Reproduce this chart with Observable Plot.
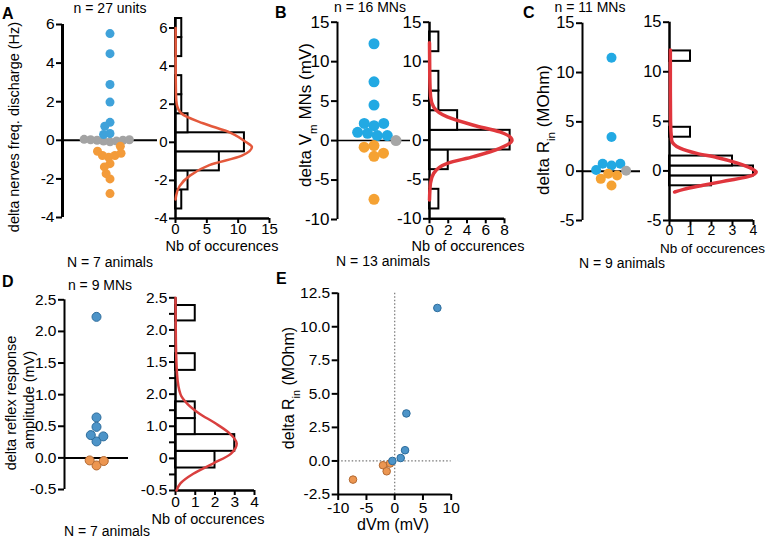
<!DOCTYPE html>
<html><head><meta charset="utf-8">
<script src="https://cdn.jsdelivr.net/npm/d3@7"></script>
<script src="https://cdn.jsdelivr.net/npm/@observablehq/plot@0.6"></script>
<style>
body{margin:0;background:#fff;}
#wrap{position:relative;width:767px;height:542px;overflow:hidden;background:#fff;}
#wrap svg{position:absolute;left:0;top:0;}
</style></head><body><div id="wrap"></div>
<script>
// ---------- Panel A: delta nerves freq. discharge (Hz) ----------
const aUp = [5.53, 4.49, 2.89, 1.98, 0.93, 0.73, 0.35, 0.30];
const aNone = [-0.08, -0.04, -0.04, 0.0, 0.0, 0.03, 0.03, 0.05];
const aDown = [-0.31, -2.76, -2.0, -1.21, -1.73, -1.38, -0.88, -0.79, -0.79, -0.67, -0.57];
const aBinLo = [-3.5, -2.5, -1.5, -0.5, 0.5, 1.5, 2.5, 4.5, 5.5];
const aBinHi = [-2.5, -1.5, -0.5, 0.5, 1.5, 2.5, 3.5, 5.5, 6.5];
const aCounts = [1, 2, 7, 11, 2, 1, 1, 1, 1];
const aFitV = [-3.0, -2.8, -2.3, -1.75, -1.2, -0.7, -0.25, 0.0, 0.5, 1.0, 1.5, 2.0, 2.5, 4.0, 6.0];
const aFitN = [0.02, 0.1, 0.65, 2.3, 5.4, 10.6, 12.2, 11.3, 8.8, 4.4, 1.0, 0.2, 0.08, 0.03, 0.02];
const aTicks = [-4, -2, 0, 2, 4, 6];
const aHistXTicks = [0, 5, 10, 15];

// ---------- Panel B: delta Vm MNs (mV) ----------
const bUp = [12.27, 7.44, 4.5, 1.89, 2.18, 2.18, 0.92, 0.63, 0.63, 1.05];
const bNone = [0];
const bDown = [-0.63, -0.84, -2.0, -1.6, -7.44];
const bBinLo = [-8.75, -3.75, -1.25, 1.25, 3.75, 6.25, 11.25];
const bBinHi = [-6.25, -1.25, 1.25, 3.75, 6.25, 8.75, 13.75];
const bCounts = [1, 2, 8.6, 3, 1, 1, 1];
const bFitV = [-7.6, -5.5, -4.2, -2.95, -2.1, -1.05, 0.0, 1.05, 1.9, 2.95, 4.2, 5.5, 8.0, 12.4];
const bFitN = [0.0, 0.1, 0.45, 1.9, 4.7, 7.5, 8.8, 7.5, 4.7, 1.9, 0.45, 0.12, 0.03, 0.0];
const bTicks = [-10, -5, 0, 5, 10, 15];
const bHistXTicks = [0, 2, 4, 6, 8];

// ---------- Panel C: delta Rin (MOhm) ----------
const cUp = [11.5, 3.46, 0.58, 0.75, 0.75, 0.12];
const cNone = [0.05];
const cDown = [-0.27, -0.44, -0.78, -1.46];
const cBinLo = [-1.5, -0.5, 0.5, 3.4, 11.05];
const cBinHi = [-0.5, 0.5, 1.5, 4.4, 12.1];
const cCounts = [2, 4, 3, 1, 1];
const cFitV = [-2.13, -1.86, -1.45, -1.0, -0.6, -0.1, 0.24, 0.82, 1.36, 1.77, 2.3, 3.1, 5.0, 8.0, 12.2];
const cFitN = [0.24, 0.67, 1.6, 2.7, 3.7, 4.13, 3.9, 3.2, 2.25, 1.3, 0.5, 0.1, 0.05, 0.04, 0.04];
const cTicks = [-5, 0, 5, 10, 15];
const cHistXTicks = [0, 1, 2, 3, 4];

// ---------- Panel D: delta reflex response amplitude (mV) ----------
const dUp = [2.23, 0.26, 0.64, 0.49, 0.36, 0.34];
const dDown = [-0.12, -0.04, -0.05];
const dBinLo = [-0.15, 0.11, 0.37, 0.62, 1.37, 2.14];
const dBinHi = [0.11, 0.37, 0.62, 0.88, 1.63, 2.38];
const dCounts = [2, 3, 1, 1, 1, 1];
const dFitV = [-0.5, -0.39, -0.24, -0.08, 0.07, 0.23, 0.4, 0.55, 0.7, 0.85, 1.0, 1.3, 1.8, 2.5];
const dFitN = [0.05, 0.25, 0.9, 1.9, 2.8, 3.1, 2.7, 2.0, 1.2, 0.6, 0.25, 0.08, 0.02, 0.0];
const dTicks = [-0.5, 0, 0.5, 1, 1.5, 2, 2.5];
const dHistTicks = [2.5, 2, 1.5, 1, 0.5, 0, -0.5];
const dHistTickLabels = ["2.5", "2.0", "1.5", "2.0", "1.0", "0", "-0.5"];
const dHistMinorTicks = [2.25, 1.75, 1.25, 0.75, 0.25, -0.25];
const dHistXTicks = [0, 1, 2, 3, 4];

// ---------- Panel E: delta Rin vs dVm ----------
const eUpVm = [7.55, 2.07, 1.83, 1.06, -0.41];
const eUpRin = [11.4, 3.54, 0.8, 0.22, 0.0];
const eDownVm = [-0.83, -2.07, -1.42, -7.38];
const eDownRin = [-0.19, -0.32, -0.77, -1.39];
const eXTicks = [-10, -5, 0, 5, 10];
const eYTicks = [-2.5, 0, 2.5, 5, 7.5, 10, 12.5];

// ---------- helpers ----------
const W = 767, H = 542;
const FONT = '"Liberation Sans", Arial, Helvetica, sans-serif';
const wrap = document.getElementById("wrap");
const fmtInt = d => String(d);
const fmt1 = d => d.toFixed(1);

function frame(l, r, t, b) {
  return {width: W, height: H, marginLeft: l, marginRight: W - r, marginTop: t, marginBottom: H - b};
}
function add(opts, fs) {
  const svg = Plot.plot({...opts, style: {background: "transparent", fontFamily: FONT, fontSize: fs, overflow: "visible"}});
  wrap.appendChild(svg);
}
// placement order for the beeswarm: large responders, then unchanged units, then the rest
function dots(up, none, down, cols, split = -Infinity) {
  return [
    ...up.filter(v => v > split).map(v => ({v, col: cols[0]})),
    ...none.map(v => ({v, col: cols[1]})),
    ...up.filter(v => v <= split).map(v => ({v, col: cols[0]})),
    ...down.map(v => ({v, col: cols[2]}))
  ];
}
function bins(lo, hi, n) { return lo.map((l, i) => ({lo: l, hi: hi[i], n: n[i]})); }
function fit(v, n) { return v.map((y, i) => ({v: y, n: n[i]})); }

const colA = ["#3fa2da", "#a3a3a3", "#f39b3a"];
const colBC = ["#22a9e3", "#a6a6a6", "#f5a233"];
const blueD = "#4d94c8", blueDs = "#2c6c9c", orD = "#ec9651", orDs = "#b36a33";

function scatter(fr, ydom, ticks, tfmt, data, r, pad, axisW, zeroW, fs, extra = {}) {
  add({
    ...frame(...fr),
    x: {domain: [0, 1], axis: null},
    y: {domain: ydom, label: null},
    color: {type: "identity"},
    marks: [
      Plot.ruleY([0], {strokeWidth: zeroW}),
      Plot.ruleX([0], {strokeWidth: axisW}),
      Plot.axisY({ticks, tickSize: 6, tickPadding: 2, tickFormat: tfmt, strokeWidth: 2, label: null}),
      Plot.dot(data, Plot.dodgeX({anchor: "middle", padding: pad, r}, {y: "v", r, fill: "col", ...extra}))
    ]
  }, fs);
}

function hist(fr, xdom, ydom, yTicks, yFmt, xTicks, binData, fitData, red, redW, fs, xfs, more = []) {
  add({
    ...frame(...fr),
    x: {domain: xdom, label: null},
    y: {domain: ydom, label: null},
    marks: [
      Plot.rectX(binData, {x1: 0, x2: "n", y1: "lo", y2: "hi", fill: "white", stroke: "black", strokeWidth: 2}),
      Plot.ruleX([0], {strokeWidth: 2.5}),
      Plot.ruleY([ydom[0]], {strokeWidth: 2.5}),
      Plot.axisY({ticks: yTicks, tickSize: 6, tickPadding: 2, tickFormat: yFmt, strokeWidth: 2, label: null}),
      Plot.axisX({ticks: xTicks, tickSize: 5, tickPadding: 0, tickFormat: fmtInt, strokeWidth: 2, label: null, fontSize: xfs}),
      ...more,
      Plot.line(fitData, {x: "n", y: "v", curve: "monotone-y", stroke: red, strokeWidth: redW})
    ]
  }, fs);
}

// ---------- A ----------
scatter([62, 157, 24, 217], [-4, 6], aTicks, fmtInt, dots(aUp, aNone, aDown, colA, 0.5), 4.5, -2.5, 3, 2, "15.5px");
hist([175, 269, 18, 218], [0, 15], [-4, 6.5], aTicks, fmtInt, aHistXTicks,
  bins(aBinLo, aBinHi, aCounts), fit(aFitV, aFitN), "#e4593c", 2.5, "15px", 15);

// ---------- B ----------
scatter([337, 410, 21.7, 219], [-10, 15], bTicks, fmtInt, dots(bUp, bNone, bDown, colBC), 5.5, -1, 2, 1.5, "17px");
hist([429, 504, 21.7, 218.3], [0, 8], [-10, 15], bTicks, fmtInt, bHistXTicks,
  bins(bBinLo, bBinHi, bCounts), fit(bFitV, bFitN), "#e0383c", 3.5, "17px", 15.5);

// ---------- C ----------
scatter([582, 640, 22.7, 220], [-5, 15], cTicks, fmtInt, dots(cUp, cNone, cDown, colBC), 5, -1, 2, 2, "16.5px");
hist([669, 753, 21.7, 220], [0, 4], [-5, 15], cTicks, fmtInt, cHistXTicks,
  bins(cBinLo, cBinHi, cCounts), fit(cFitV, cFitN), "#e0353d", 3.5, "16.5px", 14);

// ---------- D ----------
scatter([64, 128, 299.3, 489], [-0.5, 2.5], dTicks, fmt1,
  [...dUp.map(v => ({v, col: blueD, s: blueDs})), ...dDown.map(v => ({v, col: orD, s: orDs}))],
  4.5, -0.5, 2, 2, "15.5px", {stroke: "s", strokeWidth: 1});
hist([175, 254, 297.3, 490], [0, 4], [-0.5, 2.5], dHistTicks, d => dHistTickLabels[dHistTicks.indexOf(d)], dHistXTicks,
  bins(dBinLo, dBinHi, dCounts), fit(dFitV, dFitN), "#d9403f", 2.5, "15.5px", 15.5,
  [Plot.axisY({ticks: dHistMinorTicks, tickSize: 6, tickFormat: () => "", strokeWidth: 2, label: null})]);

// ---------- E ----------
add({
  ...frame(337.7, 450.7, 292.7, 494),
  x: {domain: [-10, 10], label: null},
  y: {domain: [-2.5, 12.5], label: null},
  marks: [
    Plot.ruleX([0], {stroke: "#777", strokeWidth: 1.2, strokeDasharray: "1.5,2"}),
    Plot.ruleY([0], {stroke: "#777", strokeWidth: 1.2, strokeDasharray: "1.5,2"}),
    Plot.ruleX([-10], {strokeWidth: 2}),
    Plot.ruleY([-2.5], {strokeWidth: 2}),
    Plot.axisY({ticks: eYTicks, tickSize: 6, tickPadding: 2, tickFormat: fmt1, strokeWidth: 2, label: null}),
    Plot.axisX({ticks: eXTicks, tickSize: 6, tickPadding: 1, tickFormat: fmtInt, strokeWidth: 2, label: null}),
    Plot.dot(eDownVm.map((x, i) => ({x, y: eDownRin[i]})), {x: "x", y: "y", r: 3.8, fill: orD, stroke: orDs, strokeWidth: 1}),
    Plot.dot(eUpVm.map((x, i) => ({x, y: eUpRin[i]})), {x: "x", y: "y", r: 3.8, fill: blueD, stroke: blueDs, strokeWidth: 1})
  ]
}, "15.5px");

// ---------- text overlay ----------
const ov = d3.select(wrap).append("svg").attr("width", W).attr("height", H)
  .style("font-family", FONT).style("overflow", "visible");
function txt(x, y, parts, {size = 15, anchor = "middle", weight = "normal", rot = false} = {}) {
  const t = ov.append("text").attr("text-anchor", anchor).attr("font-size", size)
    .attr("font-weight", weight).attr("fill", "black");
  if (rot) t.attr("transform", `translate(${x},${y}) rotate(-90)`).attr("dy", "0.35em");
  else t.attr("x", x).attr("y", y).attr("dy", "0.35em");
  for (const p of (typeof parts === "string" ? [[parts, 0]] : parts)) {
    const s = t.append("tspan").text(p[0]);
    if (p[1]) s.attr("font-size", size * 0.68).attr("baseline-shift", "sub");
  }
}
// panel letters
txt(2, 13, "A", {anchor: "start", weight: "bold", size: 16});
txt(275, 12, "B", {anchor: "start", weight: "bold", size: 16});
txt(523, 12, "C", {anchor: "start", weight: "bold", size: 16});
txt(2, 281, "D", {anchor: "start", weight: "bold", size: 16});
txt(276, 278, "E", {anchor: "start", weight: "bold", size: 16});
// n / N annotations
txt(110, 8, "n = 27 units", {size: 14});
txt(110, 262, "N = 7 animals", {size: 14});
txt(370, 7, "n = 16 MNs", {size: 14});
txt(383, 261, "N = 13 animals", {size: 14});
txt(590, 7, "n = 11 MNs", {size: 14});
txt(622, 263, "N = 9 animals", {size: 14});
txt(100, 285, "n = 9 MNs", {size: 14});
txt(107, 531, "N = 7 animals", {size: 14});
// axis titles
txt(14, 127, "delta nerves freq. discharge (Hz)", {rot: true, size: 14.5});
txt(305, 115, [["delta V", 0], ["m", 1], [" MNs (mV)", 0]], {rot: true, size: 17});
txt(543, 130, [["delta R", 0], ["in", 1], [" (MOhm)", 0]], {rot: true, size: 17});
txt(11, 403, "delta reflex response", {rot: true, size: 14.5});
txt(29, 400, "amplitude (mV)", {rot: true, size: 14.5});
txt(288, 388, [["delta R", 0], ["in", 1], [" (MOhm)", 0]], {rot: true, size: 16});
txt(393, 524, "dVm (mV)", {size: 16});
txt(222, 246, "Nb of occurences", {size: 14.5});
txt(468, 246, "Nb of occurences", {size: 14.5});
txt(660, 248, "Nb of occurences", {size: 13.5, anchor: "start"});
txt(208, 519, "Nb of occurences", {size: 14.5});
</script></body></html>
